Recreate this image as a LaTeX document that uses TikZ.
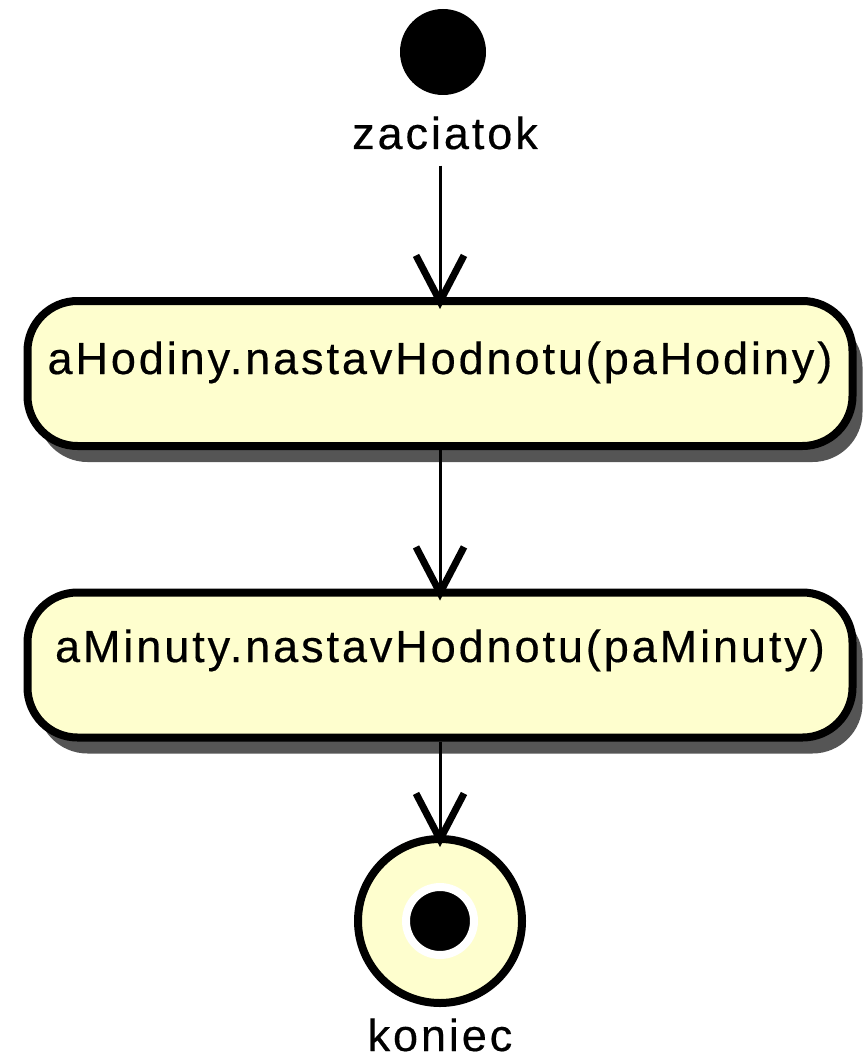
\documentclass[tikz,border=0pt]{standalone}
\usepackage{fontspec}
\setmainfont{Liberation Sans}[LetterSpace=6.5, FakeBold=0.4]
\usetikzlibrary{arrows.meta,shadows}
\definecolor{umlfill}{HTML}{FEFECE}
\definecolor{umlshadow}{HTML}{555555}
\begin{document}
\begin{tikzpicture}[x=1pt,y=-1pt,
  txt/.style={font=\fontsize{45}{52}\selectfont, inner sep=0pt},
  actbox/.style={draw, line width=8pt, fill=umlfill, rounded corners=50pt,
    minimum width=825pt, minimum height=145pt, inner sep=0pt,
    drop shadow={shadow xshift=10pt, shadow yshift=-16pt, fill=umlshadow, opacity=1}},
  flow/.style={line width=3pt, -{Straight Barb[length=46pt, width=48pt, line width=7pt]}, shorten >=-12pt},
]
\useasboundingbox (0,0) rectangle (864,1059);
\node[circle, fill=black, minimum size=86pt, inner sep=0pt] (start) at (443,52) {};
\node[txt, anchor=base] (zl) at (445,149) {zaciatok};
\node[actbox] (b1) at (440,373.5) {};
\node[txt, anchor=base] (t1) at (440,374) {aHodiny.nastavHodnotu(paHodiny)};
\node[actbox] (b2) at (440,665) {};
\node[txt, anchor=base] (t2) at (440,662) {aMinuty.nastavHodnotu(paMinuty)};
\node[circle, draw, line width=8pt, fill=umlfill, minimum size=164pt, inner sep=0pt] (end) at (440,921) {};
\node[circle, draw=white, line width=8pt, fill=black, minimum size=68pt, inner sep=0pt] (enddot) at (end.center) {};
\node[txt, anchor=base] (kl) at (440,1051) {koniec};
\draw[flow, shorten <=16pt] (b1.north |- zl.south) -- (b1.north);
\draw[flow] (b1.south) -- (b2.north);
\draw[flow] (b2.south) -- (end.north);
\end{tikzpicture}
\end{document}
